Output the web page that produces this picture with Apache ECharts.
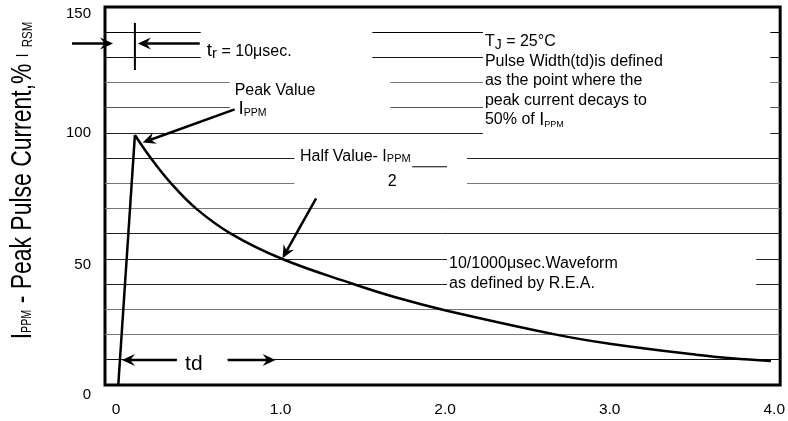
<!DOCTYPE html>
<html><head><meta charset="utf-8">
<script src="https://cdn.jsdelivr.net/npm/echarts@6/dist/echarts.min.js"></script>
<style>html,body{margin:0;padding:0;background:#fff}#c{width:788px;height:421px}</style>
</head><body><div id="c"></div>
<script>
const FONT = 'Liberation Sans, Arial, Helvetica, sans-serif';

// ---- data (time in ms, current in % of IPPM) ----
const riseX = [0.014, 0.115];
const riseY = [0, 99.2];
const decayX = [0.115, 0.212, 0.335, 0.487, 0.70, 1.011, 1.428, 1.72, 2.004, 2.69, 3.0, 3.54, 3.74, 3.98];
const decayY = [99.2, 90, 80, 70, 60, 50, 40.4, 34.4, 29.6, 19.8, 16.4, 11.9, 10.6, 9.5];
const xTickValues = [0, 1, 2, 3, 4];
const xTickLabels = ['0', '1.0', '2.0', '3.0', '4.0'];
const yTickValues = [0, 50, 100, 150];
const yTickLabels = ['0', '50', '100', '150'];
const gridLevels = [140, 130, 120, 110, 100, 90, 80, 70, 60, 50, 40, 30, 20, 10];

// ---- layout ----
const XMIN = -0.0667, XMAX = 4.036;
const gridBreaks = {
  140: [[XMIN, 0.515], [1.558, 2.230], [3.976, XMAX]],
  130: [[XMIN, 0.515], [1.558, 2.230], [3.976, XMAX]],
  120: [[XMIN, 0.691], [1.667, 2.230], [3.976, XMAX]],
  110: [[XMIN, 0.691], [1.667, 2.230], [3.976, XMAX]],
  100: [[XMIN, 2.230], [3.976, XMAX]],
  90: [[XMIN, 1.085], [2.133, XMAX]],
  80: [[XMIN, 1.085], [2.133, XMAX]],
  50: [[XMIN, 2.012], [3.891, XMAX]],
  40: [[XMIN, 2.012], [3.891, XMAX]],
  10: [[XMIN, 0.370], [0.679, XMAX]]
};
const gridColors = {140:'#000',130:'#111',120:'#777',110:'#555',100:'#222',90:'#222',80:'#777',70:'#777',60:'#222',50:'#222',40:'#222',30:'#777',20:'#777',10:'#111'};

const zip = (a, b) => a.map((v, i) => [v, b[i]]);
const chart = echarts.init(document.getElementById('c'));
const yPads = [20, 12, 0, 14];
const yRich = {};
yPads.forEach((p, i) => { yRich['p' + i] = {fontFamily: FONT, fontSize: 15, color: '#000', padding: [p, 0, 0, 0]}; });

chart.setOption({
  animation: false,
  backgroundColor: '#fff',
  grid: {left: 105, right: 6, top: 7, bottom: 36, show: true, borderColor: '#000', borderWidth: 3, backgroundColor: 'transparent'},
  xAxis: {
    type: 'value', min: XMIN, max: XMAX,
    splitLine: {show: false}, axisLine: {show: false}, axisTick: {show: false},
    axisLabel: {
      customValues: xTickValues,
      formatter: v => { const i = xTickValues.findIndex(t => Math.abs(t - v) < 1e-6); return i >= 0 ? xTickLabels[i] : ''; },
      color: '#000', fontFamily: FONT, fontSize: 15.5, margin: 17
    }
  },
  yAxis: {
    type: 'value', min: 0, max: 150, interval: 10,
    splitLine: {show: false}, axisLine: {show: false}, axisTick: {show: false},
    axisLabel: {
      customValues: yTickValues,
      formatter: v => { const i = yTickValues.findIndex(t => Math.abs(t - v) < 1e-6); return i >= 0 ? '{p' + i + '|' + yTickLabels[i] + '}' : ''; },
      rich: yRich, color: '#000', fontFamily: FONT, fontSize: 15, margin: 14
    }
  },
  series: [
    {type: 'line', data: zip(riseX, riseY), showSymbol: false, lineStyle: {color: '#000', width: 2.5}, z: 5, silent: true},
    {type: 'line', data: zip(decayX, decayY), smooth: 0.4, showSymbol: false, lineStyle: {color: '#000', width: 2.5}, z: 5, silent: true}
  ]
});

const P = (x, y) => chart.convertToPixel({gridIndex: 0}, [x, y]);
const els = [];
const crisp = v => Math.round(v - 0.5) + 0.5;

// partial grid lines
gridLevels.forEach(lv => {
  const segs = gridBreaks[lv] || [[XMIN, XMAX]];
  segs.forEach(s => {
    const a = P(s[0], lv), b = P(s[1], lv);
    els.push({type: 'line', silent: true, z: 1, shape: {x1: a[0], y1: crisp(a[1]), x2: b[0], y2: crisp(b[1])}, style: {stroke: gridColors[lv], lineWidth: 1}});
  });
});

function arrow(from, to, w, hl, hw) {
  w = w || 2.5; hl = hl || 13; hw = hw || 12;
  const a = P(from[0], from[1]), b = P(to[0], to[1]);
  const dx = b[0] - a[0], dy = b[1] - a[1], L = Math.hypot(dx, dy);
  const ux = dx / L, uy = dy / L, nx = -uy, ny = ux;
  const bx = b[0] - ux * hl, by = b[1] - uy * hl;
  const kx = b[0] - ux * hl * 0.65, ky = b[1] - uy * hl * 0.65;
  els.push({type: 'line', silent: true, z: 10, shape: {x1: a[0], y1: a[1], x2: kx, y2: ky}, style: {stroke: '#000', lineWidth: w}});
  els.push({type: 'polygon', silent: true, z: 10, shape: {points: [[b[0], b[1]], [bx + nx * hw / 2, by + ny * hw / 2], [kx, ky], [bx - nx * hw / 2, by - ny * hw / 2]]}, style: {fill: '#000'}});
}
function seg(from, to, w) {
  const a = P(from[0], from[1]), b = P(to[0], to[1]);
  els.push({type: 'line', silent: true, z: 10, shape: {x1: a[0], y1: a[1], x2: b[0], y2: b[1]}, style: {stroke: '#000', lineWidth: w}});
}

// rise-time markers
arrow([-0.267, 135.5], [-0.018, 135.5]);
arrow([0.509, 135.5], [0.133, 135.5]);
seg([0.115, 143.7], [0.115, 125.0], 2);
// peak / half value pointers
arrow([0.721, 109.4], [0.162, 96.2]);
arrow([1.216, 74.1], [1.012, 50.3]);
// td arrows
arrow([0.370, 9.9], [0.036, 9.9]);
arrow([0.679, 9.9], [0.970, 9.9]);
// fraction bar after Half Value
seg([1.80, 86.6], [2.012, 86.6], 1);

const tok = (size, extra) => Object.assign({fontFamily: FONT, fontSize: size, fill: '#000'}, extra || {});
function text(x, y, str, rich, opts) {
  const p = P(x, y);
  opts = opts || {};
  els.push({type: 'text', silent: true, z: 12, x: p[0] + (opts.dx || 0), y: p[1] + (opts.dy || 0),
    style: {text: str, rich: rich, fontFamily: FONT, fontSize: 16, fill: '#000',
      align: opts.align || 'left', textAlign: opts.align || 'left', verticalAlign: 'middle', textVerticalAlign: 'middle'}});
}

text(0.552, 132.5, '{t|t}{r|r}{n| = 10μsec.}', {t: tok(19, {lineHeight: 20}), r: tok(15, {lineHeight: 6, verticalAlign: 'bottom'}), n: tok(16, {lineHeight: 20})});
text(0.721, 116.9, '{n|Peak Value}', {n: tok(16)});
text(0.745, 109.5, '{i|I}{s|PPM}', {i: tok(19, {lineHeight: 20}), s: tok(10.5, {lineHeight: 12, verticalAlign: 'bottom'})});
text(1.118, 90.6, '{n|Half Value- I}{s|PPM}', {n: tok(16, {lineHeight: 16}), s: tok(11, {lineHeight: 8, verticalAlign: 'bottom'})});
text(1.679, 80.7, '{n|2}', {n: tok(16)}, {align: 'center'});

const tjRich = {n: tok(16, {lineHeight: 19.4}), j: tok(14, {lineHeight: 5, verticalAlign: 'bottom'}), I: tok(18, {lineHeight: 19.4}), p: tok(9, {lineHeight: 14, verticalAlign: 'bottom'})};
const tjLines = ['{n|T}{j|J}{n| = 25°C}', '{n|Pulse Width(td)is defined}', '{n|as the point where the}', '{n|peak current decays to}', '{n|50% of }{I|I}{p|PPM}'];
tjLines.forEach((l, i) => text(2.242, 136.1, l, tjRich, {dy: i * 19.4}));

text(2.024, 48.3, '{n|10/1000μsec.Waveform}', {n: tok(16)});
text(2.024, 40.4, '{n|as defined by R.E.A.}', {n: tok(16)});
text(0.473, 8.3, '{n|td}', {n: tok(21)}, {align: 'center'});

// y axis title
els.push({type: 'text', silent: true, z: 12, x: 23, y: 180.5, rotation: Math.PI / 2, scaleX: 0.765, scaleY: 1,
  style: {text: '{b|I}{s|PPM}{b| - Peak Pulse Current,% }{m|I}{b| }{r|RSM}',
    rich: {b: tok(30, {lineHeight: 32}), m: tok(17, {lineHeight: 32}), s: tok(14, {lineHeight: 16, padding: [9, 0, 0, 0]}), r: tok(15, {lineHeight: 16, padding: [9, 0, 0, 0]})},
    fontFamily: FONT, fontSize: 30, fill: '#000', align: 'center', textAlign: 'center', verticalAlign: 'middle', textVerticalAlign: 'middle'}});

chart.setOption({graphic: {elements: els}});
</script></body></html>
